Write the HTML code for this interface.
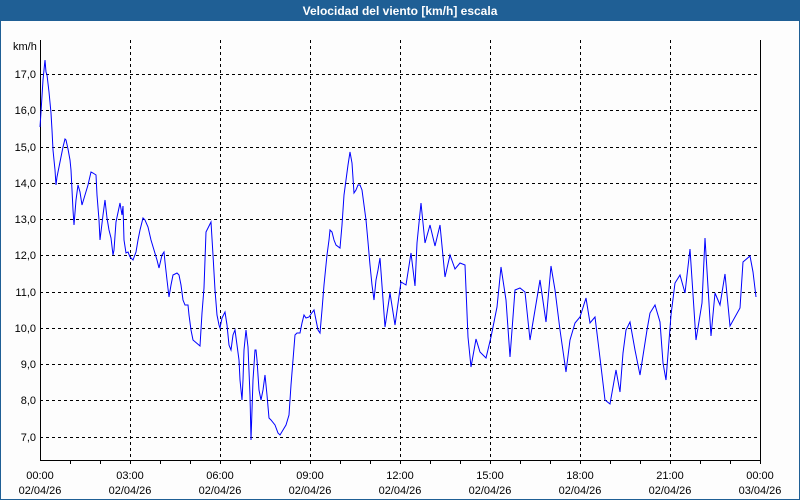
<!DOCTYPE html>
<html><head><meta charset="utf-8"><style>
html,body{margin:0;padding:0;width:800px;height:500px;overflow:hidden;background:#fff}
svg{display:block}
text{font-family:"Liberation Sans",sans-serif;font-size:11px;fill:#000}
</style></head><body>
<svg width="800" height="500" viewBox="0 0 800 500">
<rect x="0" y="0" width="800" height="500" fill="#1f5f95"/>
<rect x="1" y="21" width="798" height="478" fill="#fdfdfd"/>
<text x="400" y="15" text-anchor="middle" style="font-weight:bold;font-size:12px;fill:#fff">Velocidad del viento [km/h] escala</text>
<g stroke="#000" stroke-width="1" stroke-dasharray="3,3" fill="none">
<path d="M40 74.5H760M40 110.5H760M40 147.5H760M40 183.5H760M40 219.5H760M40 255.5H760M40 292.5H760M40 328.5H760M40 364.5H760M40 400.5H760M40 437.5H760"/>
<path d="M130.5 40V460M220.5 40V460M310.5 40V460M400.5 40V460M490.5 40V460M580.5 40V460M670.5 40V460"/>
</g>
<g stroke="#000" stroke-width="1" fill="none">
<path d="M40.5 40V460.5H760.5V40"/>
<path d="M70.5 460v4M100.5 460v4M130.5 460v4M160.5 460v4M190.5 460v4M220.5 460v4M250.5 460v4M280.5 460v4M310.5 460v4M340.5 460v4M370.5 460v4M400.5 460v4M430.5 460v4M460.5 460v4M490.5 460v4M520.5 460v4M550.5 460v4M580.5 460v4M610.5 460v4M640.5 460v4M670.5 460v4M700.5 460v4M730.5 460v4M760.5 460v4"/>
</g>
<text x="13" y="50">km/h</text>
<g text-anchor="end">
<text x="36" y="78">17,0</text><text x="36" y="114">16,0</text><text x="36" y="151">15,0</text><text x="36" y="187">14,0</text><text x="36" y="223">13,0</text><text x="36" y="259">12,0</text><text x="36" y="296">11,0</text><text x="36" y="332">10,0</text><text x="36" y="368">9,0</text><text x="36" y="404">8,0</text><text x="36" y="441">7,0</text>
</g>
<g text-anchor="middle">
<text x="40" y="479">00:00</text><text x="40" y="494">02/04/26</text>
<text x="130" y="479">03:00</text><text x="130" y="494">02/04/26</text>
<text x="220" y="479">06:00</text><text x="220" y="494">02/04/26</text>
<text x="310" y="479">09:00</text><text x="310" y="494">02/04/26</text>
<text x="400" y="479">12:00</text><text x="400" y="494">02/04/26</text>
<text x="490" y="479">15:00</text><text x="490" y="494">02/04/26</text>
<text x="580" y="479">18:00</text><text x="580" y="494">02/04/26</text>
<text x="670" y="479">21:00</text><text x="670" y="494">02/04/26</text>
<text x="760" y="479">00:00</text><text x="760" y="494">03/04/26</text>
</g>
<polyline fill="none" stroke="#0000ff" stroke-width="1" points="40,127 41,112 43,80 45,60 46,72 47,75 49,92 51,113 52,130 53,150 55,170 56,185 57,177 59,167 61,157 63,147 65,139 66,140 68,149 70,160 71,170 72,190 73,210 74,225 76,200 78,185 80,192 82,205 85,195 88,185 91,172 93,173 96,175 97,195 99,220 100,240 103,215 105,200 107,218 109,230 111,238 113,255 114,250 116,222 120,203 122,215 123,206 124,240 126,253 128,252 130,257 133,260 136,252 138,240 140,230 143,218 145,220 148,227 151,240 154,250 157,260 159,268 162,255 164,252 165,262 167,280 169,297 171,285 173,275 177,273 179,275 181,285 183,300 185,305 188,305 189,315 191,330 193,340 200,346 202,313 204,288 206,232 209,226 211,222 213,255 215,290 217,315 219,325 220,328 222,318 225,312 227,325 229,345 231,350 233,335 235,330 237,345 239,360 240,380 242,400 243,380 244,350 246,330 248,347 250,395 251,440 252,410 253,380 255,350 256,350 257,360 259,390 261,400 263,390 265,375 267,395 269,418 271,420 275,425 278,433 280,435 283,430 286,425 289,415 291,385 293,360 295,335 297,333 300,333 302,323 304,315 306,318 309,317 311,314 314,310 316,320 318,330 320,333 322,310 324,285 327,255 329,240 330,230 332,232 334,240 336,245 340,248 342,225 344,195 346,180 348,165 350,152 352,163 354,193 356,190 358,185 360,185 362,190 366,220 368,242 370,265 372,285 374,300 376,280 378,270 380,258 385,327 390,293 395,325 401,282 406,285 411,253 415,286 417,243 421,203 425,243 430,225 435,246 440,225 445,277 450,255 455,269 460,263 465,265 468,337 471,367 476,339 480,352 486,358 491,337 497,307 501,267 506,300 510,357 515,290 520,288 525,292 530,340 540,280 546,322 551,266 555,290 560,330 566,372 570,340 575,323 580,317 586,298 590,323 595,317 600,358 605,400 610,404 616,370 620,392 623,353 626,330 630,322 635,350 640,375 647,330 650,313 655,305 660,322 663,363 666,380 671,315 675,283 680,275 685,293 690,249 696,340 702,303 705,238 711,336 715,293 720,305 725,274 730,326 740,308 743,262 750,256 753,272 756,297"/>
</svg>
</body></html>
